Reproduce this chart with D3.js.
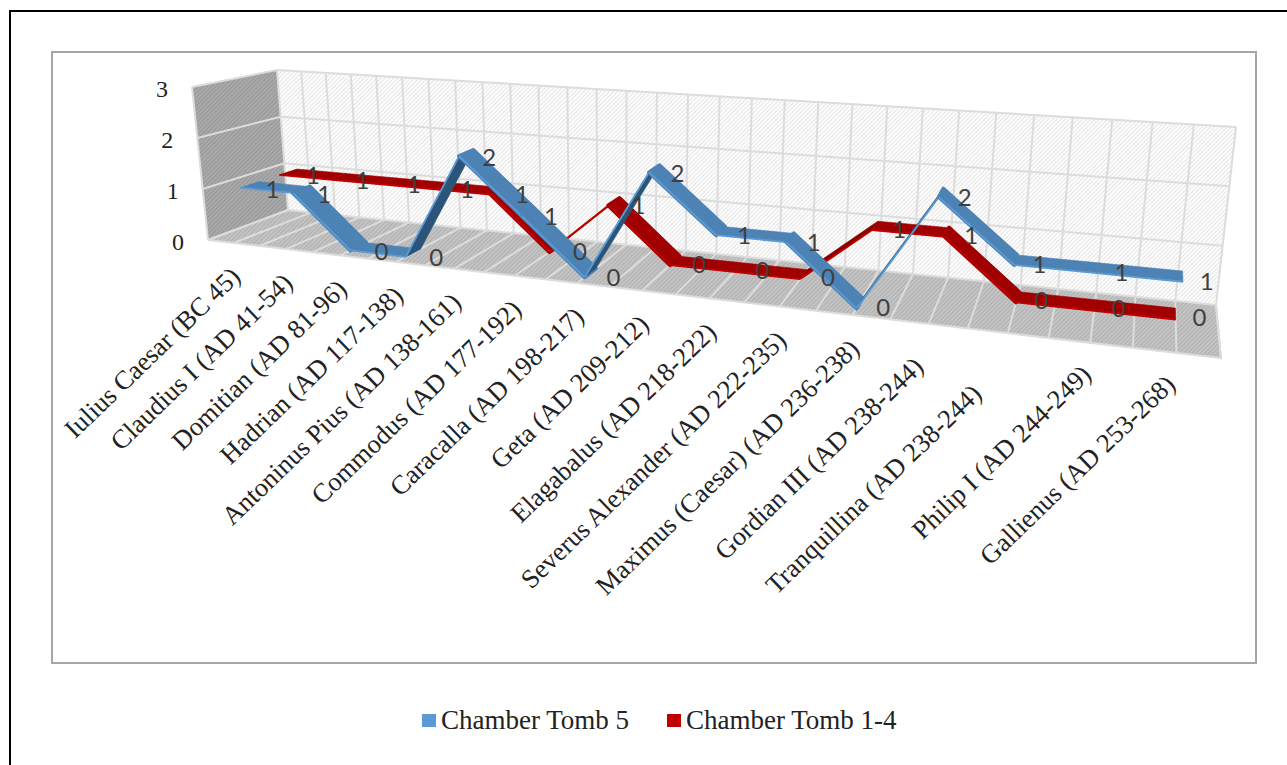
<!DOCTYPE html>
<html>
<head>
<meta charset="utf-8">
<script src="https://cdn.jsdelivr.net/npm/d3@7/dist/d3.min.js"></script>
<style>
html,body{margin:0;padding:0;background:#fff;overflow:hidden}
svg{display:block}
</style>
</head>
<body>
<svg id="chart" width="1287" height="765"></svg>
<script>
// Coins per emperor in the two groups of chamber tombs
const categories = [
  "Iulius Caesar (BC 45)", "Claudius I (AD 41-54)", "Domitian (AD 81-96)",
  "Hadrian (AD 117-138)", "Antoninus Pius (AD 138-161)", "Commodus (AD 177-192)",
  "Caracalla (AD 198-217)", "Geta (AD 209-212)", "Elagabalus (AD 218-222)",
  "Severus Alexander (AD 222-235)", "Maximus (Caesar) (AD 236-238)",
  "Gordian III (AD 238-244)", "Tranquillina (AD 238-244)",
  "Philip I (AD 244-249)", "Gallienus (AD 253-268)"
];
const tomb5 = [1, 1, 0, 0, 2, 1, 0, 2, 1, 1, 0, 2, 1, 1, 1];
const tomb14 = [1, 1, 1, 1, 1, 0, 1, 0, 0, 0, 1, 1, 0, 0, 0];
const valueTicks = [0, 1, 2, 3];
const seriesNames = ["Chamber Tomb 5", "Chamber Tomb 1-4"];

const svg = d3.select("#chart");
const SERIF = "'Liberation Serif','Times New Roman',serif";
const SANS = "Lato,'Open Sans',sans-serif";

// Scales for the three box axes, each normalised to 0..1
const cellCount = categories.length * 2;
const xScale = d3.scaleLinear().domain([0, categories.length]).range([0, 1]);
const yScale = d3.scaleLinear().domain([0, 3]).range([0, 1]);
const zScale = d3.scaleLinear().domain([0, 1]).range([0, 1]);

// Perspective foreshortening along the category axis
const foreshorten = 0.75;
const warp = u => foreshorten * u / (1 + (foreshorten - 1) * u);

// Corners of the 3-D box on screen: [front|back][left|right][floor|top]
const box = {
  fl0: [208, 240], fl1: [192, 87],
  fr0: [1221, 358], fr1: [1243, 164],
  bl0: [288, 210], bl1: [277, 70],
  br0: [1216, 305], br1: [1236, 127]
};
const mix = (a, b, t) => [a[0] + (b[0] - a[0]) * t, a[1] + (b[1] - a[1]) * t];

// Map (category position, value, depth) to screen coordinates
function project(cat, val, depth) {
  const u = warp(xScale(cat)), v = yScale(val), d = zScale(depth);
  const front = mix(mix(box.fl0, box.fr0, u), mix(box.fl1, box.fr1, u), v);
  const back = mix(mix(box.bl0, box.br0, u), mix(box.bl1, box.br1, u), v);
  return mix(front, back, d);
}
const line = d3.line();

// Hatched fills for the walls and the floor
const defs = svg.append("defs");
function hatch(id, base, stroke) {
  const p = defs.append("pattern").attr("id", id)
    .attr("width", 3).attr("height", 3)
    .attr("patternUnits", "userSpaceOnUse")
    .attr("patternTransform", "rotate(45)");
  p.append("rect").attr("width", 3).attr("height", 3).attr("fill", base);
  p.append("rect").attr("width", 1.2).attr("height", 3).attr("fill", stroke);
}
hatch("wallHatch", "#ffffff", "#e6e6e6");
hatch("sideHatch", "#ababab", "#979797");
hatch("floorHatch", "#c6c6c6", "#b0b0b0");

// Page frame and chart frame
svg.append("path").attr("d", "M1287,11H10V765")
  .attr("fill", "none").attr("stroke", "#000").attr("stroke-width", 2);
svg.append("rect").attr("x", 52).attr("y", 52).attr("width", 1204).attr("height", 611)
  .attr("fill", "#fff").attr("stroke", "#a6a6a6").attr("stroke-width", 2);

const plot = svg.append("g");
const nCats = categories.length;

// Box surfaces
const quad = (a, b, c, d, fill) => plot.append("path")
  .attr("d", line([a, b, c, d]) + "Z").attr("fill", fill);
quad(project(0, 0, 1), project(nCats, 0, 1), project(nCats, 3, 1), project(0, 3, 1), "url(#wallHatch)");
quad(project(0, 0, 0), project(0, 0, 1), project(0, 3, 1), project(0, 3, 0), "url(#sideHatch)");
quad(project(0, 0, 0), project(nCats, 0, 0), project(nCats, 0, 1), project(0, 0, 1), "url(#floorHatch)");

// Gridlines: horizontal ones run round the side and back walls,
// the category lines climb the back wall and cross the floor
const grid = plot.append("g").attr("fill", "none").attr("stroke", "#dcdcdc").attr("stroke-width", 2);
valueTicks.forEach(v => {
  grid.append("path").attr("d", line([project(0, v, 0), project(0, v, 1), project(nCats, v, 1)]));
});
d3.range(0, cellCount + 1).forEach(c => {
  const cat = c / 2;
  grid.append("path").attr("d", line([project(cat, 3, 1), project(cat, 0, 1), project(cat, 0, 0)]));
});
grid.append("path").attr("d", line([project(0, 0, 0), project(nCats, 0, 0), project(nCats, 0, 1)]));
grid.append("path").attr("d", line([project(0, 0, 0), project(0, 3, 0)]));

// Each series is a ribbon of quads between two depths; falling runs show
// their top face and read slightly wider than flat ones
function ribbon(values, zFront, zBack, colors) {
  const g = plot.append("g");
  d3.pairs(values.map((v, i) => [i + 0.5, v])).forEach(([p, q]) => {
    const rising = q[1] > p[1];
    const falling = q[1] < p[1];
    const corners = [
      project(p[0], p[1], zFront), project(q[0], q[1], zFront),
      project(q[0], q[1], zBack), project(p[0], p[1], zBack)
    ];
    g.append("path").attr("d", line(corners) + "Z")
      .attr("fill", rising ? colors.under : colors.top)
      .attr("stroke", rising ? colors.under : colors.top)
      .attr("stroke-width", falling ? 4 : 0.6).attr("stroke-linejoin", "round");
    g.append("path").attr("d", line([corners[0], corners[1]]))
      .attr("fill", "none").attr("stroke", colors.edge).attr("stroke-width", 1.8);
  });
}
const palette = {
  blue: { top: "#4d82b5", under: "#2c5478", edge: "#5b9bd5" },
  red: { top: "#a00000", under: "#8a0000", edge: "#c00000" }
};
ribbon(tomb14, 0.64, 0.86, palette.red);
ribbon(tomb5, 0.15, 0.38, palette.blue);

// Data labels sit just to the right of each ribbon point
function dataLabels(values, zMid) {
  plot.append("g").selectAll("text").data(values).join("text")
    .attr("x", (v, i) => project(i + 0.5, v, zMid)[0] + 24)
    .attr("y", (v, i) => project(i + 0.5, v, zMid)[1] + 3)
    .attr("text-anchor", "middle").attr("dominant-baseline", "central")
    .attr("font-family", SANS).attr("font-size", 24).attr("fill", "#3f3f3f")
    .text(v => v);
}
dataLabels(tomb14, 0.76);
dataLabels(tomb5, 0.25);

// Value axis labels along the front edge of the side wall
svg.append("g").selectAll("text").data(valueTicks).join("text")
  .attr("x", v => project(0, v, 0)[0] - 30)
  .attr("y", v => project(0, v, 0)[1] + 2)
  .attr("text-anchor", "middle").attr("dominant-baseline", "central")
  .attr("font-family", SERIF).attr("font-size", 24).attr("fill", "#222")
  .text(v => v);

// Category labels, rotated and ending under each point on the floor's front edge;
// the last few are pushed down the slope so long neighbours stay apart
const labelShift = i => ({ 11: [-12, 9], 12: [-33, 27], 13: [-6, -2], 14: [-8, -2] }[i] || [0, 0]);
svg.append("g").selectAll("text").data(categories).join("text")
  .attr("transform", (c, i) => {
    const p = project(i + 0.5, 0, 0);
    const s = labelShift(i);
    return `translate(${p[0] + 2 + s[0]},${p[1] + 29 + s[1]}) rotate(-44)`;
  })
  .attr("text-anchor", "end").attr("dominant-baseline", "central")
  .attr("font-family", SERIF).attr("font-size", 26.5).attr("fill", "#222")
  .text(c => c);

// Legend
const legend = svg.append("g").attr("font-family", SERIF).attr("font-size", 27).attr("fill", "#222");
const legendColors = ["#5b9bd5", "#c00000"];
const legendX = d3.scaleOrdinal().domain(seriesNames).range([422, 667]);
seriesNames.forEach((name, k) => {
  legend.append("rect").attr("x", legendX(name)).attr("y", 714)
    .attr("width", 14).attr("height", 13).attr("fill", legendColors[k]);
  legend.append("text").attr("x", legendX(name) + 19).attr("y", 720)
    .attr("dominant-baseline", "central").text(name);
});
</script>
</body>
</html>
